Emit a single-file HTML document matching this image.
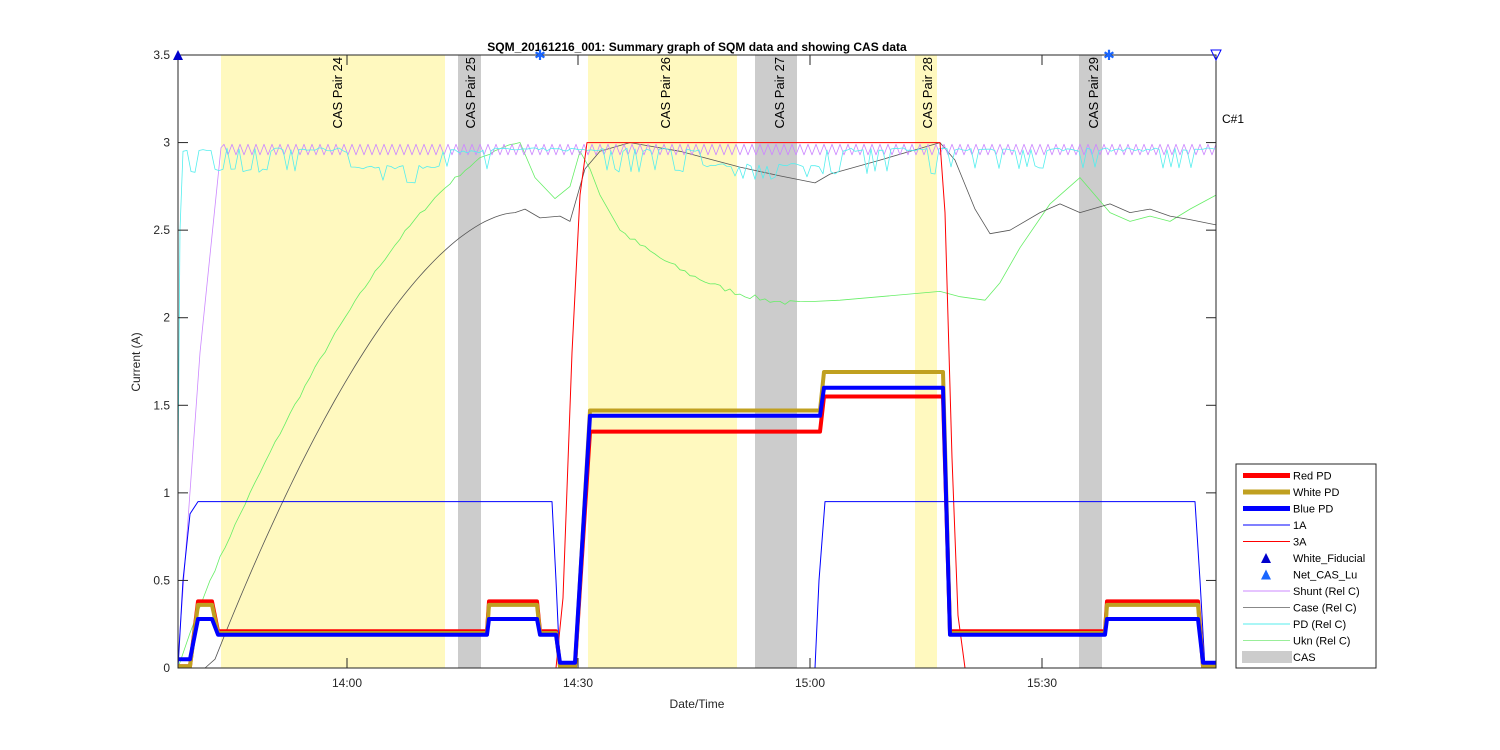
<!DOCTYPE html>
<html><head><meta charset="utf-8"><style>
html,body{margin:0;padding:0;background:#fff;}
svg{display:block;font-family:"Liberation Sans",Arial,sans-serif;}
</style></head><body>
<svg id="s" width="1500" height="750" xmlns="http://www.w3.org/2000/svg">
<rect width="1500" height="750" fill="#fff"/>
<g id="bands"></g>
<g id="lines"></g>
<g id="axes"></g>
</svg>
<script>
var NS="http://www.w3.org/2000/svg";
function Y(v){return 668-175.14*v;}
function el(p,t,a,txt){var e=document.createElementNS(NS,t);for(var k in a)e.setAttribute(k,a[k]);if(txt!=null)e.textContent=txt;document.getElementById(p).appendChild(e);return e;}
[[221,445,'#fff9bf'],[458,481,'#cccccc'],[588,737,'#fff9bf'],[755,797,'#cccccc'],[915,937,'#fff9bf'],[1079,1102,'#cccccc']].forEach(function(b){el('bands','rect',{x:b[0],y:55,width:b[1]-b[0],height:613,fill:b[2]});});
[[337,'CAS Pair 24'],[470,'CAS Pair 25'],[665,'CAS Pair 26'],[779,'CAS Pair 27'],[927,'CAS Pair 28'],[1093,'CAS Pair 29']].forEach(function(l){el('bands','text',{x:0,y:0,transform:'translate('+(l[0]+5)+',57) rotate(-90)','text-anchor':'end','font-size':'13',fill:'#000'},l[1]);});
function pl(pts,stroke,w){var d=pts.map(function(p){return p[0].toFixed(1)+','+Y(p[1]).toFixed(1);}).join(' ');el('lines','polyline',{points:d,fill:'none',stroke:stroke,'stroke-width':w,'stroke-linejoin':'round'});}
var sd=7;function rnd(){sd=(sd*16807)%2147483647;return sd/2147483647;}
var g=[[178,0],[190,0.2],[210,0.5]];
for(var x=215;x<=520;x+=5){var t=(x-210)/310;g.push([x,0.5+2.5*(1-Math.pow(1-t,1.6))+(rnd()-.5)*0.02]);}
g=g.concat([[535,2.8],[555,2.68],[570,2.75],[580,2.95],[590,2.85],[600,2.7],[620,2.5]]);
for(x=625;x<=810;x+=5){var t=(x-620)/190;g.push([x,2.5-0.42*(1-Math.pow(1-t,2))+(rnd()-.5)*0.03]);}
g=g.concat([[840,2.1],[880,2.12],[940,2.15],[960,2.12],[985,2.1],[1000,2.2],[1020,2.4],[1050,2.65],[1080,2.8],[1095,2.7],[1110,2.6],[1130,2.55],[1150,2.58],[1170,2.55],[1190,2.62],[1216,2.7]]);
pl(g,'#66ee66',0.8);
var c=[[178,0],[205,0],[215,0.05]];
for(x=220;x<=515;x+=5){var t=(x-215)/300;c.push([x,0.05+2.55*(1-Math.pow(1-t,1.7))]);}
c=c.concat([[525,2.62],[540,2.57],[560,2.58],[570,2.55],[585,2.85],[600,2.95],[630,3.0],[680,2.95],[740,2.86],[780,2.81],[815,2.77],[830,2.82],[880,2.9],[940,3.0],[955,2.9],[975,2.62],[990,2.48],[1010,2.5],[1040,2.6],[1060,2.65],[1080,2.6],[1110,2.65],[1130,2.6],[1150,2.62],[1170,2.58],[1190,2.56],[1216,2.53]]);
pl(c,'#555555',0.8);
var s=[[178,0.05],[200,1.8],[221,2.97]];
var k=0;for(x=224;x<=1216;x+=4,k++){s.push([x,k%2?2.93:2.99]);}
pl(s,'#cc88ff',0.8);
var p=[[178,1.1],[180,2.5],[183,2.95]];
for(x=187;x<=1216;x+=4){var base=2.96,r=rnd(),sp=0;
 if(x<300){sp=(r<0.5)?-0.12:0;}
 else if(x<345){sp=0;}
 else if(x<480){base=(x>350&&x<440)?2.86:2.95;sp=(r<0.12)?-0.08:0;}
 else if(x<590){sp=(r<0.2)?-0.1:0;}
 else if(x<700){sp=(r<0.35)?-0.12:0;}
 else if(x<820){base=2.87;sp=(r<0.2)?-0.07:0;}
 else if(x<940){sp=(r<0.35)?-0.13:0;}
 else {sp=(r<0.3)?-0.1:0;}
 p.push([x,base+sp+(rnd()-.5)*0.02]);}
pl(p,'#55eeee',0.8);
pl([[178,0],[556,0],[563,0.4],[572,1.8],[580,2.7],[587,3],[940,3],[945,2.6],[952,1.2],[958,0.3],[965,0],[1216,0]],'#ff0000',1);
pl([[178,0],[183,0.5],[190,0.88],[198,0.95],[552,0.95],[556,0.5],[560,0],[815,0],[819,0.5],[825,0.95],[1195,0.95],[1200,0.5],[1205,0],[1216,0]],'#0000ff',1);
function step(levels,col,w){var pts=[];levels.forEach(function(l){pts.push([l[0],l[2]]);pts.push([l[1],l[2]]);});pl(pts,col,w);}
step([[178,190,0.01],[198,212,0.38],[218,487,0.21],[489,537,0.38],[540,556,0.21],[560,575,0.01],[590,820,1.35],[824,943,1.55],[950,1105,0.21],[1107,1198,0.38],[1203,1216,0.01]],'#ff0000',4);
step([[178,190,0.01],[198,212,0.36],[218,487,0.2],[489,537,0.36],[540,556,0.2],[560,575,0.01],[590,820,1.47],[824,943,1.69],[950,1105,0.2],[1107,1198,0.36],[1203,1216,0.01]],'#c0a020',4);
step([[178,190,0.05],[198,212,0.28],[218,487,0.19],[489,537,0.28],[540,556,0.19],[560,575,0.03],[590,820,1.44],[824,943,1.6],[950,1105,0.19],[1107,1198,0.28],[1203,1216,0.03]],'#0000ff',4);
var A='axes';
el(A,'rect',{x:178,y:55,width:1038,height:613,fill:'none',stroke:'#262626','stroke-width':1});
for(var i=0;i<=7;i++){var v=i*0.5,y=Y(v);el(A,'line',{x1:178,y1:y,x2:188,y2:y,stroke:'#262626'});el(A,'line',{x1:1206,y1:y,x2:1216,y2:y,stroke:'#262626'});
el(A,'text',{x:170,y:y+4,'text-anchor':'end','font-size':'12',fill:'#262626'},v.toString());}
[[347,'14:00'],[578,'14:30'],[810,'15:00'],[1042,'15:30']].forEach(function(t){el(A,'line',{x1:t[0],y1:668,x2:t[0],y2:658,stroke:'#262626'});el(A,'line',{x1:t[0],y1:55,x2:t[0],y2:65,stroke:'#262626'});el(A,'text',{x:t[0],y:687,'text-anchor':'middle','font-size':'12',fill:'#262626'},t[1]);});
el(A,'text',{x:697,y:708,'text-anchor':'middle','font-size':'12',fill:'#262626'},'Date/Time');
el(A,'text',{x:0,y:0,transform:'translate(140,362) rotate(-90)','text-anchor':'middle','font-size':'12',fill:'#262626'},'Current (A)');
el(A,'text',{x:697,y:51,'text-anchor':'middle','font-size':'12','font-weight':'bold',fill:'#000'},'SQM_20161216_001: Summary graph of SQM data and showing CAS data');
el(A,'text',{x:1222,y:123,'font-size':'12',fill:'#000'},'C#1');
el(A,'polygon',{points:'173,60 183,60 178,50',fill:'#0000cc'});
function star(cx,cy){el(A,'text',{x:cx,y:cy+5,'text-anchor':'middle','font-size':'14',fill:'#1a66ff'},'✱');}
star(540,55);star(1109,55);
el(A,'polygon',{points:'1211,50 1221,50 1216,60',fill:'none',stroke:'#0000ff'});
el(A,'rect',{x:1236,y:464,width:140,height:204,fill:'#fff',stroke:'#262626'});
var items=[['Red PD','#ff0000',5,'l'],['White PD','#c0a020',5,'l'],['Blue PD','#0000ff',5,'l'],['1A','#0000ff',1,'l'],['3A','#ff0000',1,'l'],['White_Fiducial','#0000cc',0,'t'],['Net_CAS_Lu','#1a66ff',0,'t'],['Shunt (Rel C)','#cc88ff',1,'l'],['Case (Rel C)','#888',1,'l'],['PD (Rel C)','#55eeee',1,'l'],['Ukn (Rel C)','#99ee99',1,'l'],['CAS','#cccccc',0,'r']];
items.forEach(function(it,i){var y=475.5+i*16.5;
if(it[3]=='l')el(A,'line',{x1:1243,y1:y,x2:1290,y2:y,stroke:it[1],'stroke-width':it[2]});
else if(it[3]=='t')el(A,'polygon',{points:(1261)+','+(y+5)+' '+(1271)+','+(y+5)+' 1266,'+(y-5),fill:it[1]});
else el(A,'rect',{x:1242,y:y-6,width:50,height:12,fill:it[1]});
el(A,'text',{x:1293,y:y+4,'font-size':'11',fill:'#000'},it[0]);});
</script>
</body></html>
